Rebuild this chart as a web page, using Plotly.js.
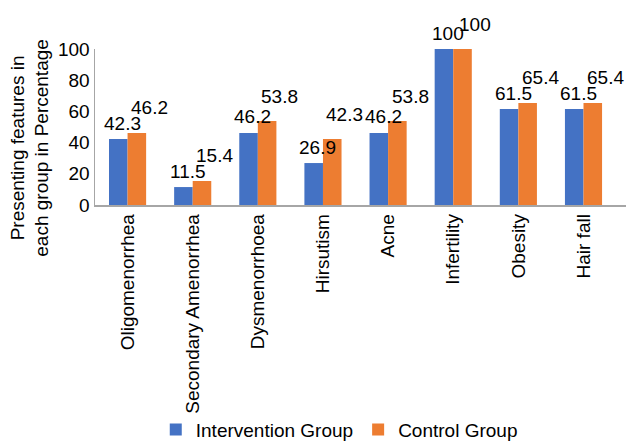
<!DOCTYPE html>
<html>
<head>
<meta charset="utf-8">
<script src="https://cdn.plot.ly/plotly-3.0.1.min.js"></script>
<style>html,body{margin:0;padding:0;background:#fff;}#chart{width:637px;height:443px;}</style>
</head>
<body>
<div id="chart"></div>
<script>
var categories = ["Oligomenorrhea", "Secondary Amenorrhea", "Dysmenorrhoea", "Hirsutism", "Acne", "Infertility", "Obesity", "Hair fall"];
var interventionValues = [42.3, 11.5, 46.2, 26.9, 46.2, 100, 61.5, 61.5];
var controlValues = [46.2, 15.4, 53.8, 42.3, 53.8, 100, 65.4, 65.4];
var seriesNames = ["Intervention Group", "Control Group"];
var yTickValues = [0, 20, 40, 60, 80, 100];

var FONT = "Liberation Sans, Arial, sans-serif";
var blue = "#4472C4", orange = "#ED7D31";

var traces = [
  {type: "bar", name: seriesNames[0], x: categories, y: interventionValues, marker: {color: blue}, hoverinfo: "x+y"},
  {type: "bar", name: seriesNames[1], x: categories, y: controlValues, marker: {color: orange}, hoverinfo: "x+y"}
];

var annotations = [];
categories.forEach(function (c, i) {
  annotations.push({x: c, y: interventionValues[i], xref: "x", yref: "y", text: String(interventionValues[i]),
    showarrow: false, xanchor: "center", yanchor: "middle", xshift: -5, yshift: 16,
    font: {family: FONT, size: 19, color: "#000"}});
  annotations.push({x: c, y: controlValues[i], xref: "x", yref: "y", text: String(controlValues[i]),
    showarrow: false, xanchor: "center", yanchor: "middle", xshift: 22, yshift: 25,
    font: {family: FONT, size: 19, color: "#000"}});
});
annotations.push({
  xref: "paper", yref: "paper", x: -0.123, y: 0.365, xanchor: "center", yanchor: "middle",
  text: "Presenting features in<br>each group in Percentage", textangle: -90, showarrow: false,
  font: {family: FONT, size: 19, color: "#000"}
});

var layout = {
  width: 637, height: 443,
  margin: {l: 95, r: 11, t: 49, b: 238, autoexpand: false},
  paper_bgcolor: "#fff", plot_bgcolor: "#fff",
  font: {family: FONT, size: 19, color: "#000"},
  barmode: "group", bargap: 0.43, bargroupgap: 0,
  showlegend: true,
  legend: {orientation: "h", xref: "paper", x: 0.46, xanchor: "center", yref: "paper", y: -1.44, yanchor: "middle",
    bgcolor: "rgba(0,0,0,0)",
    font: {family: FONT, size: 19, color: "#000"}, itemwidth: 30, tracegroupgap: 0, traceorder: "normal"},
  xaxis: {type: "category", tickangle: -90, showline: true, linecolor: "#a6a6a6", linewidth: 1.5,
    ticks: "", showgrid: false, automargin: false, tickfont: {family: FONT, size: 19, color: "#000"}},
  yaxis: {range: [0, 100], tickvals: yTickValues, ticktext: yTickValues.map(String), showline: true,
    linecolor: "#a6a6a6", linewidth: 1.5, ticks: "", showgrid: false, zeroline: false, automargin: false,
    tickfont: {family: FONT, size: 19, color: "#000"}},
  annotations: annotations
};

Plotly.newPlot("chart", traces, layout, {displayModeBar: false, staticPlot: true});
</script>
</body>
</html>
